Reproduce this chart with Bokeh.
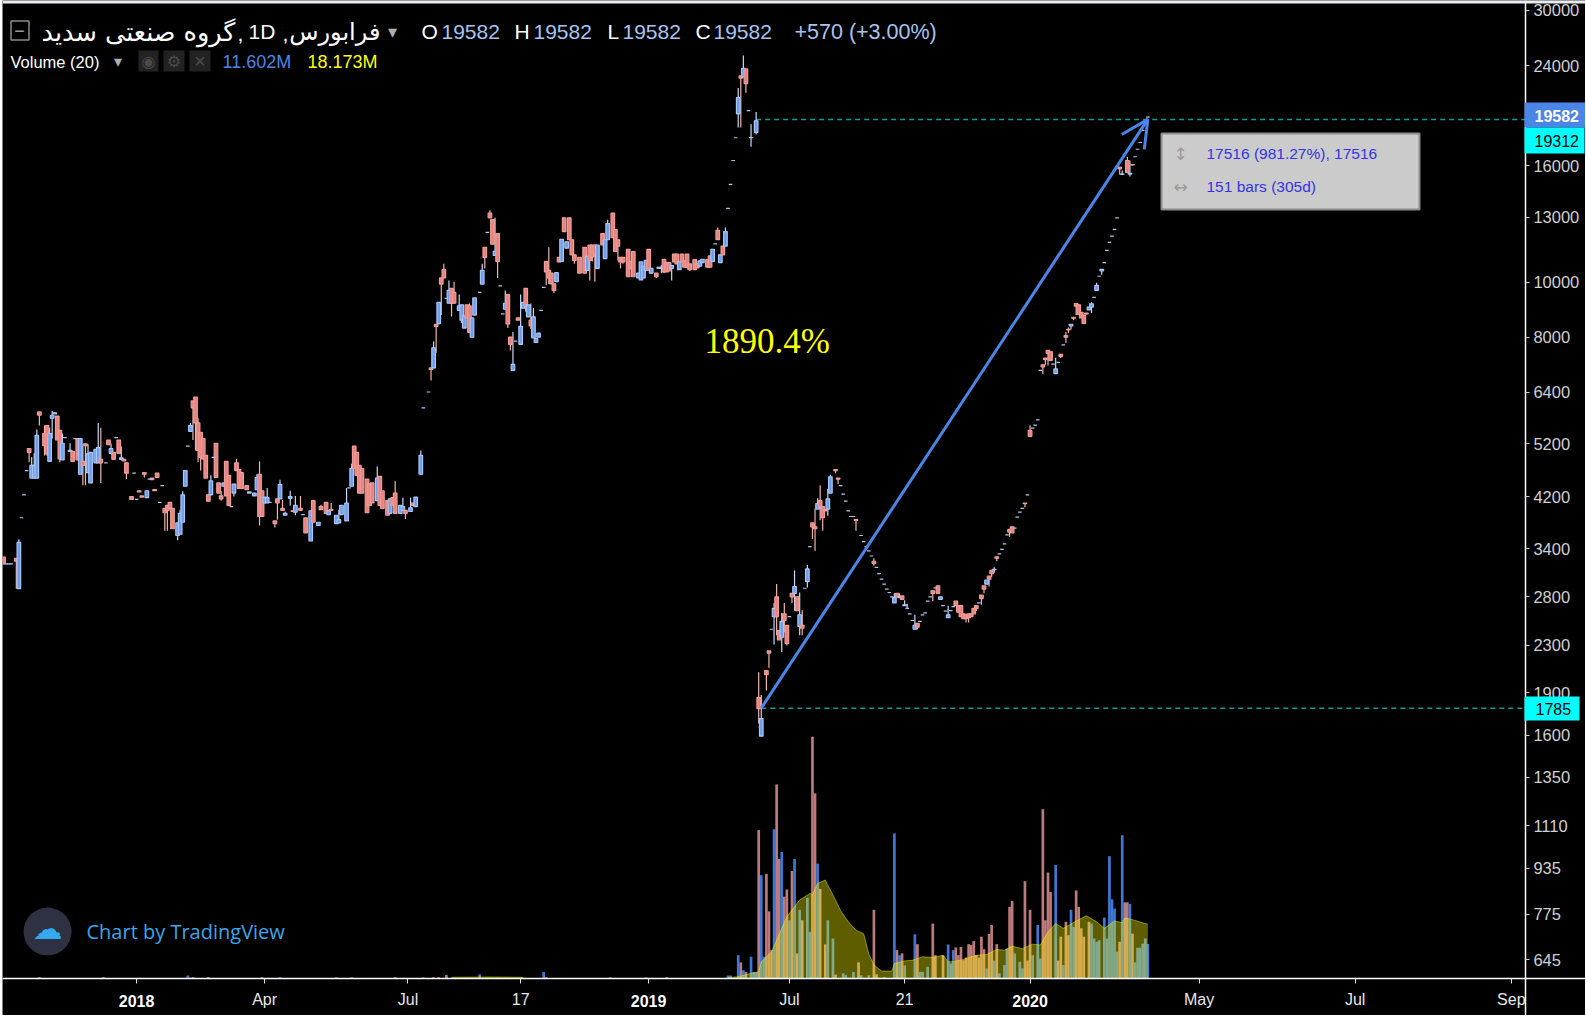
from bokeh.plotting import figure
from bokeh.models import (Range1d, LinearScale, FixedTicker, Label, BoxAnnotation, Arrow, OpenHead,
                          ColumnDataSource, NumeralTickFormatter)
from bokeh.embed import file_html
from bokeh.resources import INLINE

# ---------- price sessions: (bar, open, high, low, close) ----------
candles_2017 = [
(0,3377,3377,3285,3285),(5,3360,3360,2975,3320),(6,2975,3625,2975,3580),(10,5210,5210,4930,5130),
(11,4630,5030,4630,4870),(12,4630,5110,4630,4870),(13,4630,5620,4630,5490),(14,6030,6030,5710,5950),
(16,5530,5710,5065,5270),(17,5710,5710,5060,5100),(18,4950,5660,4950,5530),(19,5880,6050,5420,5950),
(20,5980,6030,5980,6010),(21,5930,5930,5390,5390),(22,5600,5600,4930,5000),(23,4980,5530,4980,5320),
(26,5150,5320,5150,5170),(27,5150,5150,4950,4950),(29,5420,5420,4980,4980),(30,4700,5420,4700,5420),
(31,4950,5270,4500,4870),(32,5310,5310,4500,5270),(33,4730,5300,4730,5100),(34,4540,5130,4540,5130),
(36,4920,5190,4920,5190),(37,4920,5770,4920,5230),(38,4990,5660,4540,4920),(41,5390,5390,5290,5290),
(42,5110,5310,5110,5210),(43,5130,5130,4990,4990),(45,5390,5390,5110,5110),(46,4990,5250,4990,5020),
(47,4990,4990,4960,4960),(48,4920,4920,4610,4720),(50,4300,4300,4250,4250),(53,4400,4400,4380,4380),
(54,4310,4310,4290,4290),(55,4730,4730,4640,4700),(56,4280,4400,4280,4400),(58,4630,4630,4600,4600),
(59,4420,4420,4400,4400),(60,4720,4720,4640,4640),(63,4100,4100,3750,4030),(64,4150,4150,3750,4070),
(65,4200,4200,4100,4100),(66,4100,4100,3780,3780),(68,3680,3870,3610,3870),(69,3700,4080,3700,4020),
(70,3880,4390,3880,4330),(71,4480,4770,4480,4770),
]
candles_2018a = [
(73,5580,5770,5580,5710),(74,6300,6300,5390,6130),(75,6400,6400,5170,5770),(76,5770,5880,4930,5170),
(77,5560,5560,4770,5030),(78,5420,5420,4980,5000),(79,5070,5070,4630,4630),(80,4330,4330,4220,4220),
(81,4330,4680,4330,4580),(83,5320,5320,4640,4640),(84,4540,4540,4360,4360),(85,4310,4400,4230,4260),
(86,4480,4540,4480,4540),(87,4950,4950,4310,4310),(88,4680,4680,4150,4150),(90,4360,4520,4300,4520),
(91,4920,5000,4770,4770),(92,4790,4790,4440,4440),(93,4730,4730,4440,4440),(95,4490,4490,4420,4420),
(96,4360,4380,4360,4380),(98,4310,4360,4310,4360),(99,4420,4700,4420,4640),(100,4700,4950,3830,3970),
(101,4400,4400,3970,3970),(102,4190,4290,4190,4290),(103,4190,4450,4190,4280),(106,3900,3900,3800,3860),
(107,4260,4260,3920,4190),(108,4260,4600,4260,4510),(109,4100,4240,4070,4070),(110,3990,4050,3990,4020),
(112,4270,4400,4150,4300),(113,4060,4060,4050,4050),(114,4040,4310,3990,4150),(116,4100,4310,4070,4070),
(118,3950,3950,3720,3720),(120,3600,4060,3600,4060),(121,4230,4230,3880,3880),(123,3830,3880,3830,3880),
(124,4130,4160,4080,4080),(126,4200,4200,4020,4020),(127,4000,4060,4000,4060),(128,4080,4190,4070,4070),
(130,3860,3990,3860,3990),(131,3870,4080,3870,3920),(132,4000,4150,4000,4150),(134,3900,4450,3900,4190),
(136,4480,4900,4480,4810),(137,5260,5260,4810,4810),(138,5130,5130,4680,4680),(139,4870,4870,4360,4360),
(140,4810,4810,4360,4360),(142,4610,4610,4030,4030),(143,4530,4530,4150,4150),(144,4540,4540,4190,4190),
(146,4230,4850,4230,4630),(147,4660,4660,4150,4150),(148,4400,4400,4100,4100),(150,4230,4230,3990,3990),
(151,4020,4260,4020,4260),(152,4280,4280,4150,4150),(153,4360,4570,4020,4020),(155,4020,4150,4020,4150),
(156,4070,4280,4070,4130),(157,4070,4070,3930,4020),(159,4050,4280,4050,4110),(160,4190,4190,4150,4150),
(161,4130,4290,4130,4290),(163,4700,5170,4700,5070),
]
candles_2018b = [
(167,7190,7190,6840,7150),(168,7190,7990,7190,7790),(169,8560,8560,7640,8490),(170,8580,9340,8580,9340),
(171,10300,10300,8880,10050),(172,10650,10900,10300,10300),(174,9310,10200,9310,9800),(175,9880,9880,8830,9310),
(176,9720,10150,9310,9310),(178,9050,9640,9050,9210),(179,8700,9250,8600,9250),(180,8430,8850,8430,8850),
(181,9250,9250,8780,8780),(182,9210,9300,8290,8290),(183,8130,8780,8130,8780),(184,8880,9510,8880,9510),
(187,10050,10900,10050,10620),(188,11640,11640,10700,11180),(190,13350,13500,13100,13100),(191,13000,13000,11790,11790),
(192,11270,13100,11270,11460),(193,12300,12300,10300,11000),(196,9090,9800,9090,9310),(197,9640,9640,8430,8570),
(198,8130,8130,7710,7900),(199,7120,8300,7120,7290),(201,8780,8780,8700,8700),(202,7900,9640,7900,8490),
(203,9130,9340,9130,9340),(204,9880,9880,9000,9250),(205,8820,9250,8820,9250),(206,8700,9300,8400,8500),
(207,8110,9130,8110,8820),(208,7960,8080,7960,8080),(209,8130,8260,8130,8260),(212,11000,11000,10000,10550),
(213,10620,11640,10050,10300),(214,10500,10500,10060,10060),(215,10060,10060,9700,9800),(216,10150,10520,10150,10520),
(217,11180,11180,10980,10980),(218,11000,12020,11000,12020),(219,13100,13100,12400,12400),(220,11600,11900,11600,11900),
(221,13100,13100,12000,12000),(222,12000,12000,11300,11300),(223,11300,11300,10900,11050),(225,11180,11180,10500,10500),
(227,11640,11640,10500,10500),(228,10620,11230,10620,11230),(229,11750,11750,10200,11050),(230,11750,11750,11000,11200),
(231,11750,11750,10150,11300),(232,10700,11750,10700,11750),(234,12300,12300,11750,11750),(235,11130,12000,11130,12000),
(236,12000,13000,12000,12800),(238,13350,13350,12100,12100),(239,12500,12500,11450,11450),(240,12000,12000,11050,11700),
(241,11180,11180,10700,10980),(242,11180,11180,10900,10980),(244,11550,11550,10350,10350),(245,11000,11000,10700,10700),
(246,11450,11450,10350,10350),(248,10300,10500,10300,10500),(249,10220,10980,10220,10980),(250,10300,10800,10300,10800),
(251,10620,11050,10620,11050),(252,11550,11550,10620,10620),(253,10500,10700,10500,10700),
]
candles_2019a = [
(255,10500,10500,10300,10350),(256,10700,10750,10700,10750),(257,10700,10850,10500,10750),(258,11090,11090,10500,10550),
(259,10950,10950,10550,10550),(260,10950,10950,10600,10600),(261,10700,10820,10200,10820),(262,11330,11330,10980,10980),
(263,11330,11330,10900,10900),(264,10650,10980,10650,10980),(265,11330,11330,10980,10980),(266,11030,11030,10750,10750),
(267,11330,11330,10750,10750),(268,10900,10900,10600,10650),(270,11080,11080,10650,10650),(271,10900,10900,10720,10720),
(272,10800,11030,10800,11030),(273,10950,11100,10950,11100),(275,11080,11080,10750,10750),(276,11250,11250,10750,10750),
(277,11000,11550,11000,11550),(279,12460,12600,12000,12000),(280,10950,11300,10950,11300),(281,11700,11700,11300,11300),
(282,11700,12600,11700,12400),(287,19850,22000,18800,21180),(288,23100,23100,18800,22900),(289,23000,25050,23000,23800),
(290,23750,23750,21600,22400),(292,18040,19040,17400,18050),(294,18430,20000,18280,19300),
]
candles_2019b = [
(295,1925,2130,1735,1842),(296,1650,1945,1650,1770),(298,2145,2145,1980,2110),(299,2320,2320,2170,2300),
(301,2660,2810,2380,2750),(302,2880,3030,2470,2660),(303,2515,2515,2425,2425),(304,2450,2700,2310,2610),
(305,2690,2810,2500,2620),(306,2570,2570,2370,2390),(308,2920,2920,2810,2880),(309,2920,3200,2725,3000),
(310,2880,2880,2725,2725),(311,2560,2930,2470,2680),(312,2570,2730,2470,2540),(314,3060,3270,2990,3220),
(316,3870,3870,3630,3810),(317,3810,4100,3460,3780),(318,4090,4270,4090,4180),(319,4230,4500,3910,4130),
(320,4130,4130,3750,3950),(321,4080,4080,4060,4060),(322,4090,4430,3980,4260),(323,4360,4690,4360,4650),
(325,4790,4790,4720,4770),(326,4630,4630,4520,4610),(333,3920,3920,3750,3910),(340,3320,3360,3260,3290),
(348,2810,2920,2810,2870),(349,2920,2920,2880,2880),(350,2870,2920,2870,2880),(351,2890,2890,2850,2850),
(352,2780,2840,2780,2790),(353,2750,2800,2750,2750),(356,2530,2680,2530,2570),(357,2590,2590,2530,2550),
(363,2950,2950,2830,2920),(365,3010,3010,2920,2920),(366,2850,2880,2850,2880),(369,2650,2780,2650,2680),
(372,2830,2830,2780,2780),(373,2780,2780,2710,2710),(374,2780,2780,2660,2660),(375,2690,2690,2640,2640),
(376,2680,2680,2600,2640),(377,2690,2690,2600,2650),(378,2690,2690,2660,2660),(379,2750,2750,2690,2690),
(380,2780,2780,2720,2750),(382,2900,2900,2790,2860),(383,3010,3010,2920,2970),(384,3030,3080,3030,3080),
(385,3130,3130,3000,3090),(386,3200,3200,3120,3160),(387,3210,3240,3170,3215),(388,3380,3380,3320,3360),
(393,3770,3770,3660,3730),(394,3810,3810,3720,3720),(399,4190,4190,4120,4180),
]
candles_2020 = [
(401,5600,5720,5470,5470),(406,7280,7280,7010,7220),(407,7480,7480,7280,7430),(408,7710,7710,7260,7620),
(409,7670,7670,7410,7410),(411,7030,7490,7030,7160),(413,7590,7590,7480,7530),(415,8180,8300,7950,8130),
(416,8390,8450,8260,8370),(417,8500,8560,8390,8560),(418,8800,8800,8700,8770),(419,9300,9300,8880,9200),
(420,9250,9250,8900,8900),(421,8980,8980,8780,8780),(422,8880,8880,8590,8590),(423,8950,8950,8900,8920),
(424,9070,9170,9070,9170),(425,9170,9350,8950,9290),(427,9800,10100,9800,10000),(429,10600,10680,10430,10660),
(436,16040,16040,15580,15930),(437,15580,15830,15580,15600),(439,16470,16700,15700,15700),(440,15600,16470,15450,15650),
(441,16210,16210,16150,16180),
]
# sessions with no range (open = high = low = close)
flat_bars = [1,2,3,7,8,9,24,28,40,44,51,52,57,61,62,72,82,89,104,117,135,164,166,173,186,189,194,195,200,210,211,
             278,283,284,285,286,291,300,307,313,315,327,328,329,330,331,332,335,336,337,338,339,341,342,343,344,345,
             346,347,354,355,358,359,360,361,362,364,367,368,370,371,381,389,390,391,392,395,396,397,398,400,
             402,403,404,405,410,412,414,426,428,430,431,432,433,434,435,442,443,444,445,446,447]
flat_prices = [3285,3285,3285,3950,4330,4770,5440,5420,4920,5440,4720,4250,4610,4200,4490,5260,5030,4130,4200,4000,4450,6130,6530,
               9490,9720,12360,9980,8920,8000,9050,9920,
               11800,13600,14970,16470,18040,20100,2530,2660,2980,3520,4490,4340,4220,4060,3970,3970,3680,3590,3520,3460,3390,
               3240,3160,3090,3030,2970,2930,2880,2690,2620,2610,2680,2700,2830,2880,2985,2780,2720,2725,2770,2810,3420,3480,3560,
               3690,3790,3960,4040,4100,4330,5650,5720,5840,7120,7300,7350,7880,9530,10370,10950,11500,11870,12170,12510,13100,
               16720,17230,17700,18580,19130,19582]

# ---------- volume, in millions ----------
vol_bars_early = [14,39,72,74,80,101,108,130,136,153,164,168,170,173,186,211,212,237,251,259]
vol_vals_early = [0.4,0.4,1.0,0.4,0.4,0.4,0.4,0.4,0.4,0.4,0.4,0.4,0.4,1.2,1.4,2.2,0.4,0.4,0.4,0.4]
vol_dirs_early = "rrbrrrbbbrbrrrbbrbbr"
vol_bars_a = [283,284,287,288,289,290,292,293,294,295,296,297,298,299,300,301,302,303,304,305,306,307,308,309,310,311,312,
              314,315,316,317,318,319,321,322,324,325,328,329,332,334,335,338,340,341,344,348,349,350,351,352,356,357,358,359,361,363,364]
vol_vals_a = [1,1,7.8,5.4,2.8,2.2,7.3,2.2,2.2,49.7,34.6,7.3,35,22.5,9.5,50,65,40,42.4,27.4,29.8,19.5,36,40,8.4,23,19.5,
              27,15.6,81,62,38.5,30,11.4,19.5,13.4,1.3,1.7,1.1,2.2,5.4,1.1,1.1,23,1.4,0.5,48.6,9.5,7.8,8.4,4.4,14.8,11.5,2.2,2.2,3.9,18.4,7.8]
vol_dirs_a = ["b","b","b","r","b","r","b","b","b","r","b","b","r","r","r","b","r","r","b","r","r","b","r","b","r","b","r",
              "b","b","r","r","b","r","r","b","b","r","b","b","b","r","b","b","r","r","b","b","r","b","r","b","b","r","b","b","b","r","r"]
vol_bars_b = [367,369,370,371,372,373,374,375,376,377,378,379,380,381,382,383,384,385,386,387,388,389,391,392,393,394,395,397,398,399,400,401,402,
              404,405,406,407,408,409,411,412,413,414,415,416,417,418,419,420,421,422,424,425,426,427,428,430,431,432,433,434,435,436,
              437,438,439,440,441,442,443,444,445,446,447]
vol_vals_b = [7.8,11.4,5,9.5,10.4,7.8,10.6,6.1,7,11.5,11.2,12.5,7.8,7,14,9.8,3.4,14.9,17.9,6,11.5,1.7,4.5,10,24,26,8.4,5.6,3.4,32.6,6,23,7.8,
              17.9,6.7,56.7,19.5,35.5,29,38,6,14,4.5,19,14.5,23,17.3,29.5,24,16.8,14,19,18.4,13.4,12.3,12.8,20.4,13.4,41,26.5,23.4,9,12.3,
              48,25.5,25.5,25,15,5.4,10.3,10.3,11.7,13.4,11.6]
vol_dirs_b = ["r","b","b","b","r","r","r","r","r","r","r","r","r","r","r","r","b","r","r","b","r","b","b","b","r","r","b","b","b","r","r","r","b",
              "b","b","r","r","r","r","b","r","r","b","r","r","b","b","r","r","r","r","r","b","b","b","b","b","b","b","b","b","b","r",
              "b","r","r","b","r","b","b","b","b","b","b"]

ma_bars_early = [175,190,203]
ma_vals_early = [0.4,0.5,0.4]
ma_bars = [283,287,291,295,296,300,304,306,311,315,316,318,321,325,327,330,333,336,338,340,343,347,348,352,355,359,363,367,369,371,
           375,380,384,388,391,394,398,402,405,408,411,414,420,423,427,430,434,437,438,441,444,447]
ma_vals = [0.3,0.6,1.5,2.2,5.6,8.9,16.8,20.7,26.3,28.5,28,31.8,33,26.3,22.7,19,16.2,15,8.3,4.5,2.5,2.5,5,5.9,6.1,7.3,7,7.8,5.6,5.6,
           6.4,7.8,8,9.7,9.5,10.8,10,11.5,11.2,15.6,18.4,16.8,19.7,21,19,16.8,19.3,18.7,20.3,19.7,18.9,18.17]

price_ticks = [30000,24000,16000,13000,10000,8000,6400,5200,4200,3400,2800,2300,1900,1600,1350,1110,935,775,645]
time_ticks = [52,102,158,202,252,307,352,401,467,528,589]
time_labels = ["2018","Apr","Jul","17","2019","Jul","21","2020","May","Jul","Sep"]
year_labels = {"2018","2019","2020"}
level_high, level_low = 19312, 1785
measure_start, measure_end = 296, 447
axis_bar, axis_price = 594.5, 598   # where the two axes cross the plot area
# my reading table for prices ran slightly tight against the log axis; this is the measured correction
READ_EXP, READ_TOP = 1.012, 30000

BLUE, RED = "#6d9eeb", "#e8837f"
BLUE_EDGE, RED_EDGE = "#a9c6f5", "#ee9d99"
BLUE_WICK, RED_WICK = "#c6d9f7", "#f0b5ad"
VOL_BLUE, VOL_RED = "#3d78d8", "#bd7a7a"


def fix(v):
    return READ_TOP * (v / READ_TOP) ** READ_EXP


rows = candles_2017 + candles_2018a + candles_2018b + candles_2019a + candles_2019b + candles_2020
rows += [(b, v, v, v, v) for b, v in zip(flat_bars, flat_prices)]
bar = [r[0] for r in rows]
op = [fix(r[1]) for r in rows]
hi = [fix(r[2]) for r in rows]
lo = [fix(r[3]) for r in rows]
cl = [fix(r[4]) for r in rows]
up = [c >= o for o, c in zip(op, cl)]
src = ColumnDataSource(dict(
    bar=bar, high=hi, low=lo,
    top=[max(o, c) for o, c in zip(op, cl)], bottom=[min(o, c) for o, c in zip(op, cl)],
    fill=[BLUE if u else RED for u in up],
    edge=[BLUE_EDGE if u else RED_EDGE for u in up],
    wick=[BLUE_WICK if u else RED_WICK for u in up]))

FL, FB = 2, 1015   # plot-area corner on the page
p = figure(width=1583, height=1015, output_backend="svg", toolbar_location=None,
           y_axis_type="log", y_axis_location="right",
           x_range=Range1d(-0.4, 617.97), y_range=Range1d(514.9, 31236),
           background_fill_color="#000000", border_fill_color="#000000",
           min_border_left=0, min_border_top=0, min_border_right=0, min_border_bottom=0,
           outline_line_color=None, margin=(0, 0, 0, 2))
p.grid.visible = False

p.extra_y_ranges = {"vol": Range1d(-12.395, 327.6)}
p.extra_y_scales = {"vol": LinearScale()}

vb = vol_bars_early + vol_bars_a + vol_bars_b
vv = vol_vals_early + vol_vals_a + vol_vals_b
vd = list(vol_dirs_early) + vol_dirs_a + vol_dirs_b
p.vbar(x=vb, top=vv, bottom=0, width=1.05, y_range_name="vol", line_color=None,
       fill_color=[VOL_BLUE if d == "b" else VOL_RED for d in vd])
for xs, ys in ((ma_bars_early, ma_vals_early), (ma_bars, ma_vals)):
    p.varea(x=xs, y1=[0] * len(xs), y2=ys, y_range_name="vol", fill_color="#ffff00", fill_alpha=0.37)
    p.line(x=xs, y=ys, y_range_name="vol", line_color="#ffff00", line_alpha=0.45, line_width=1)

p.segment(x0=[294, measure_start], x1=[axis_bar, axis_bar], y0=[level_high, level_low], y1=[level_high, level_low],
          line_color="#0b9e98", line_width=1.5, line_dash="5 4")

p.segment(x0="bar", x1="bar", y0="low", y1="high", source=src, line_color="wick", line_width=1.2)
p.vbar(x="bar", top="top", bottom="bottom", width=1.4, source=src, fill_color="fill", line_color="edge", line_width=1.2)

p.add_layout(Arrow(end=OpenHead(line_color="#4a86e8", line_width=3, size=27),
                   x_start=measure_start, y_start=level_low, x_end=measure_end, y_end=level_high,
                   line_color="#4a86e8", line_width=3))

# axes sit inside the plot area so the tags and labels around them are not cut by it
ax = p.yaxis[0]
ax.fixed_location = axis_bar
ax.ticker = FixedTicker(ticks=price_ticks)
ax.formatter = NumeralTickFormatter(format="0")
ax.axis_line_color = "#ffffff"
ax.axis_line_width = 1.5
ax.major_tick_line_color = "#cccccc"
ax.major_tick_out = 4
ax.major_tick_in = 0
ax.minor_tick_line_color = None
ax.major_label_text_color = "#d0d0d0"
ax.major_label_text_font = "Liberation Sans"
ax.major_label_text_font_size = "16.5px"
ax.major_label_standoff = 4

xa = p.xaxis[0]
xa.fixed_location = axis_price
xa.ticker = FixedTicker(ticks=time_ticks)
xa.major_label_overrides = {t: ("" if l in year_labels else l) for t, l in zip(time_ticks, time_labels)}
xa.axis_line_color = "#ffffff"
xa.axis_line_width = 1.5
xa.major_tick_line_color = "#dddddd"
xa.major_tick_out = 5
xa.major_tick_in = 0
xa.minor_tick_line_color = None
xa.major_label_text_color = "#e8e8e8"
xa.major_label_text_font = "Liberation Sans"
xa.major_label_text_font_size = "16px"
xa.major_label_standoff = 7


def txt(text, px, py, color="#ffffff", size=16, font="Liberation Sans", style="normal", align="left"):
    p.add_layout(Label(x=px - FL, y=FB - py, x_units="screen", y_units="screen", text=text, text_color=color,
                       text_font_size=f"{size}px", text_font=font, text_font_style=style, text_align=align,
                       text_baseline="middle", level="overlay"))


def box(x0, x1, y0, y1, fill, line=None, width=1):
    p.add_layout(BoxAnnotation(left=x0 - FL, right=x1 - FL, top=FB - y0, bottom=FB - y1,
                               left_units="screen", right_units="screen", top_units="screen", bottom_units="screen",
                               fill_color=fill, fill_alpha=1, line_color=line, line_alpha=1, line_width=width,
                               level="overlay"))


# the pale page strip above the chart
box(2, 1585, 0, 3, "#e9edf0")

for t, l in zip(time_ticks, time_labels):
    if l in year_labels:
        txt(l, 3 + t * 2.56, 1000, "#ffffff", 16, style="bold", align="center")

# header
box(10.5, 28.5, 20.5, 39.5, "#000000", "#8a8a8a", 1.5)
txt("\u2212", 19, 30, "#9a9a9a", 18, align="center")
txt("گروه صنعتی سدید", 235, 31, "#ffffff", 25.5, font="DejaVu Sans", align="right")
txt(",", 237, 33, "#ffffff", 21)
txt("1D", 248, 31, "#ffffff", 21)
txt(",", 282, 33, "#ffffff", 21)
txt("فرابورس", 380, 31, "#ffffff", 24, font="DejaVu Sans", align="right")
txt("\u25be", 387, 31, "#b0b0b0", 18)
LB = "#a9c4ef"
for lab, lx, vx in (("O", 421, 441), ("H", 514, 533), ("L", 607, 622), ("C", 695, 713)):
    txt(lab, lx, 31, "#ffffff", 21)
    txt("19582", vx, 31, LB, 21)
txt("+570 (+3.00%)", 794, 31, LB, 21.5)
txt("Volume (20)", 10, 61, "#ffffff", 16.5)
txt("\u25be", 113, 61, "#b0b0b0", 16)
for a, b_, g in ((138, 158, "\u25c9"), (163, 184, "\u2699"), (189, 210, "\u2715")):
    box(a, b_, 50, 71, "#222222")
    txt(g, (a + b_) / 2, 61, "#4a4a4a", 16, font="DejaVu Sans", align="center")
txt("11.602M", 222, 61, "#4a86e8", 18)
txt("18.173M", 307, 61, "#ffff00", 18)

txt("1890.4%", 704, 341, "#ffff00", 35, font="Liberation Serif")

# measure tooltip
box(1161, 1419, 133, 209, "#cbcbcb", "#8c8c8c", 2)
txt("\u2195", 1180, 153, "#9a9a9a", 17, font="DejaVu Sans", align="center")
txt("\u2194", 1180, 186, "#9a9a9a", 17, font="DejaVu Sans", align="center")
txt("17516 (981.27%), 17516", 1206, 153, "#3535e6", 15.5)
txt("151 bars (305d)", 1206, 186, "#3535e6", 15.5)

# price tags
box(1524, 1585, 102, 127, "#4a86e8")
txt("19582", 1534, 115, "#ffffff", 16, style="bold")
box(1524, 1584, 127, 153, "#00ffff")
txt("19312", 1534, 140, "#000000", 16)
box(1524, 1579, 696, 720, "#00ffff")
txt("1785", 1535, 708, "#000000", 16)

# logo
p.scatter(x=[17.2], y=[723], size=48, marker="circle", fill_color="#2e3142", line_color=None)
txt("\u2601", 47, 928, "#35a9ee", 30, font="DejaVu Sans", align="center")
txt("Chart by TradingView", 86, 931, "#38a6ea", 20, font="Open Sans")

open("out.html", "w").write(file_html(p, INLINE))
